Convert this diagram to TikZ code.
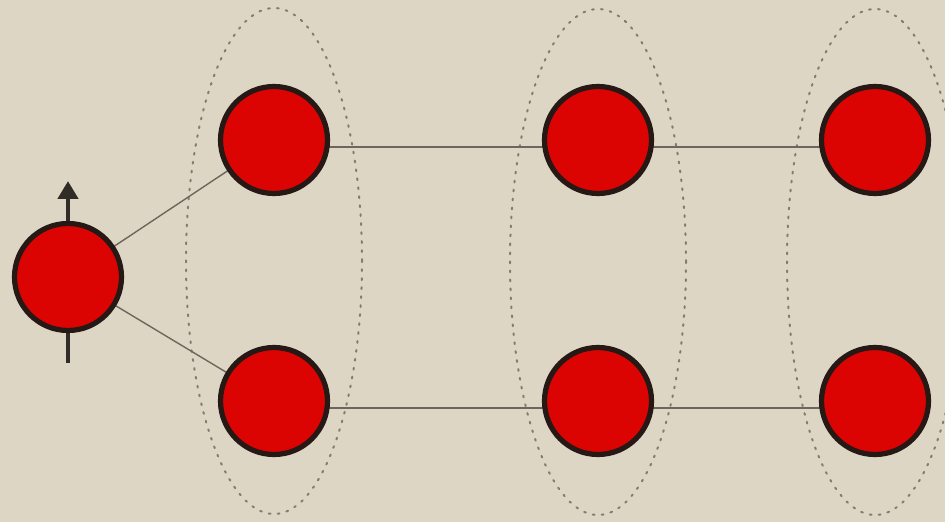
\documentclass[tikz,border=0pt]{standalone}
\usetikzlibrary{shapes.geometric,arrows.meta}
\definecolor{bg}{RGB}{222,214,196}
\definecolor{ball}{RGB}{220,4,2}
\definecolor{rim}{RGB}{38,24,20}
\definecolor{bond}{RGB}{110,102,92}
\definecolor{dots}{RGB}{130,124,116}
\definecolor{spincol}{RGB}{50,44,40}
\begin{document}
\begin{tikzpicture}[x=0.5pt,y=-0.5pt,
  atom/.style={circle,fill=ball,draw=rim,line width=2.6pt,minimum size=53.5pt,inner sep=0pt},
  group/.style={ellipse,draw=dots,line width=1pt,dash pattern=on 0.9pt off 3.6pt,line cap=round,minimum width=88pt,minimum height=253pt,inner sep=0pt},
  bondline/.style={draw=bond,line width=0.7pt},
  spin/.style={draw=spincol,line width=2.4pt,-{Triangle[width=10pt,length=9pt]}}]
\fill[bg] (0,0) rectangle (945,522);
\useasboundingbox (0,0) rectangle (945,522);
% groups
\node[group] (g1) at (274,261) {};
\node[group] (g2) at (598,262) {};
\node[group] (g3) at (875,262) {};
% spin arrow
\coordinate (sb) at (68,363);
\coordinate (st) at (68,181);
\draw[spin] (sb) -- (st);
% bonds (drawn before atoms)
\coordinate (c0) at (68,277);
\coordinate (a1) at (274,140);
\coordinate (a2) at (598,140);
\coordinate (a3) at (875,140);
\coordinate (b1) at (274,401);
\coordinate (b2) at (598,401);
\coordinate (b3) at (875,401);
\draw[bondline] (c0) -- (a1);
\draw[bondline] (c0) -- (b1);
\draw[bondline] ([yshift=-3.5pt]a1) -- ([yshift=-3.5pt]a2) -- ([yshift=-3.5pt]a3);
\draw[bondline] ([yshift=-3.5pt]b1) -- ([yshift=-3.5pt]b2) -- ([yshift=-3.5pt]b3);
% atoms
\node[atom] (n0) at (c0) {};
\node[atom] (n1) at (a1) {};
\node[atom] (n2) at (a2) {};
\node[atom] (n3) at (a3) {};
\node[atom] (m1) at (b1) {};
\node[atom] (m2) at (b2) {};
\node[atom] (m3) at (b3) {};
\end{tikzpicture}
\end{document}
